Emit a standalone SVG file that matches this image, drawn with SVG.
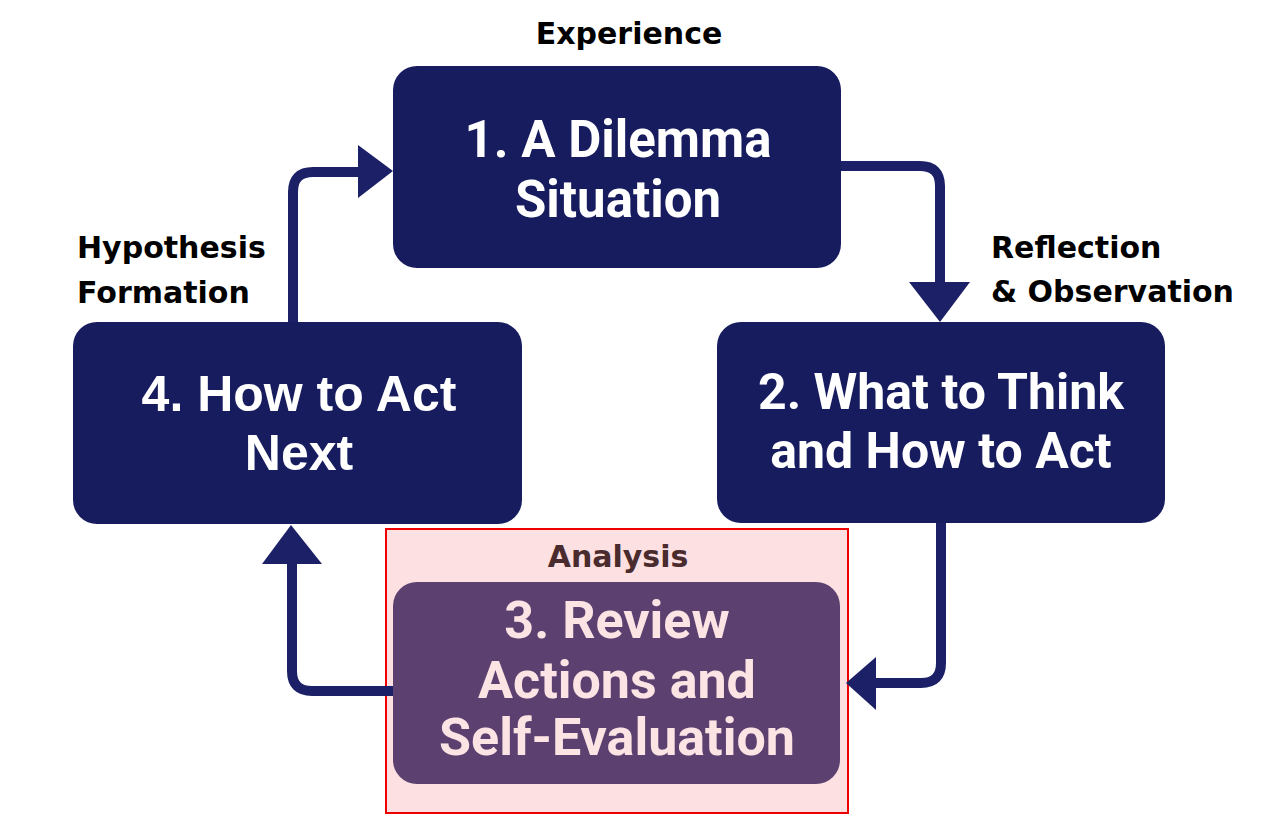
<svg xmlns="http://www.w3.org/2000/svg" width="1268" height="835" viewBox="0 0 1268 835">
  <style>
    .box { fill: #171c5f; }
    .t { font-family: Roboto, "Liberation Sans", sans-serif; font-weight: bold; font-size: 50px; fill: #ffffff; text-anchor: middle; }
    .t4 { font-family: "Liberation Sans", Arial, sans-serif; font-weight: bold; font-size: 50px; fill: #ffffff; text-anchor: middle; }
    .lbl { font-family: "DejaVu Sans", sans-serif; font-weight: bold; font-size: 30px; fill: #000000; }
    .conn { fill: none; stroke: #1c2066; stroke-width: 10; }
    .head { fill: #1c2066; }
  </style>
  <rect width="1268" height="835" fill="#ffffff"/>

  <g id="labels">
    <text class="lbl" x="629" y="44" text-anchor="middle">Experience</text>
    <text class="lbl" x="991" y="258">Reflection</text>
    <text class="lbl" x="991" y="302">&amp; Observation</text>
    <text class="lbl" x="77" y="258">Hypothesis</text>
    <text class="lbl" x="77" y="303">Formation</text>
  </g>

  <g id="analysis-area">
    <rect x="386" y="529" width="462" height="284" fill="#fde0e2" stroke="#ee0000" stroke-width="2"/>
    <text class="lbl" x="618" y="567" text-anchor="middle" font-size="29" style="fill:#4a2b2e">Analysis</text>
  </g>

  <g id="connectors">
    <path class="conn" d="M841,166 H920 Q940,166 940,186 V286"/>
    <polygon class="head" points="909,282 970,282 940,322"/>
    <path class="conn" d="M941,523 V663 Q941,683 921,683 H874"/>
    <polygon class="head" points="876,657 876,710 846,683"/>
    <path class="conn" d="M393,691 H312 Q292,691 292,671 V560"/>
    <polygon class="head" points="262,564 322,564 291,525"/>
    <path class="conn" d="M293,322 V192 Q293,172 313,172 H362"/>
    <polygon class="head" points="358,145 358,198 393,171"/>
  </g>

  <g id="node1">
    <rect class="box" x="393" y="66" width="448" height="202" rx="24"/>
    <text class="t" x="618" y="157" font-size="51" style="font-size:51px">1. A Dilemma</text>
    <text class="t" x="618" y="217" style="font-size:51px">Situation</text>
  </g>

  <g id="node2">
    <rect class="box" x="717" y="322" width="448" height="201" rx="24"/>
    <text class="t" x="941" y="409">2. What to Think</text>
    <text class="t" x="941" y="468">and How to Act</text>
  </g>

  <g id="node3">
    <rect x="393" y="582" width="447" height="202" rx="24" fill="#5c4170"/>
    <text class="t" x="617" y="638" style="fill:#fde4e4;font-size:52px">3. Review</text>
    <text class="t" x="617" y="698" style="fill:#fde4e4;font-size:52px">Actions and</text>
    <text class="t" x="617" y="755" style="fill:#fde4e4;font-size:52px">Self-Evaluation</text>
  </g>

  <g id="node4">
    <rect class="box" x="73" y="322" width="449" height="202" rx="24"/>
    <text class="t4" x="299" y="411">4. How to Act</text>
    <text class="t4" x="299" y="470">Next</text>
  </g>
</svg>
